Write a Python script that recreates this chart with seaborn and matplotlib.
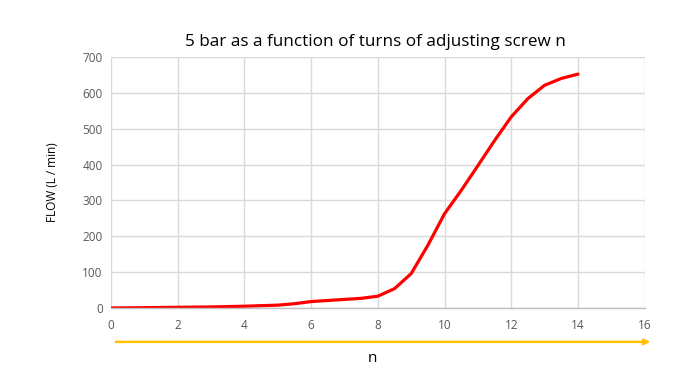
import matplotlib
matplotlib.use("Agg")
import matplotlib.pyplot as plt
import seaborn as sns
import pandas as pd

turns = [0, 1, 2, 3, 4, 5, 5.5, 6, 6.5, 7, 7.5, 8, 8.5, 9, 9.5, 10, 10.5, 11, 11.5, 12, 12.5, 13, 13.5, 14]
flow = [0, 1, 2, 3, 5, 8, 12, 18, 21, 24, 27, 33, 54, 96, 175, 263, 328, 397, 467, 533, 584, 621, 640, 652]

x_ticks = [0, 2, 4, 6, 8, 10, 12, 14, 16]
y_ticks = [0, 100, 200, 300, 400, 500, 600, 700]

df = pd.DataFrame({"n": turns, "flow": flow})

sns.set_theme(style="white")
plt.rcParams['font.family'] = ['Open Sans', 'DejaVu Sans']

fig = plt.figure(figsize=(6.86, 3.72), dpi=100)
ax = fig.add_axes([0.1618, 0.172, 0.778, 0.675])

sns.lineplot(data=df, x="n", y="flow", ax=ax, color="#FF0000", linewidth=2.3)
ax.lines[0].set_solid_joinstyle("round")
ax.lines[0].set_solid_capstyle("round")

ax.set_xlim(0, 16)
ax.set_ylim(0, 700)
ax.set_xticks(x_ticks)
ax.set_yticks(y_ticks)
ax.tick_params(axis="x", length=0, labelsize=8.5, labelcolor="#595959", pad=8)
ax.tick_params(axis="y", length=0, labelsize=8.5, labelcolor="#595959", pad=6)
ax.grid(True, color="#D9D9D9", linewidth=1.0)
for s in ["top", "right", "left"]:
    ax.spines[s].set_visible(False)
ax.spines["bottom"].set_color("#BFBFBF")
ax.spines["bottom"].set_linewidth(1.0)
ax.set_xlabel("")
ax.set_ylabel("FLOW (L / min)", fontsize=8.5, color="#000000", labelpad=17)

fig.text(0.548, 0.887, "5 bar as a function of turns of adjusting screw n", fontsize=12.3,
         ha="center", va="center", color="#000000")

# orange arrow under the x axis
ax.annotate("", xy=(0.952, 0.081), xytext=(0.165, 0.081), xycoords="figure fraction",
            textcoords="figure fraction",
            arrowprops=dict(arrowstyle="-|>", color="#FFC000", lw=1.8, mutation_scale=8))
fig.text(0.543, 0.035, "n", fontsize=11, ha="center", va="center", color="#000000")

fig.savefig("out.png", dpi=100)
